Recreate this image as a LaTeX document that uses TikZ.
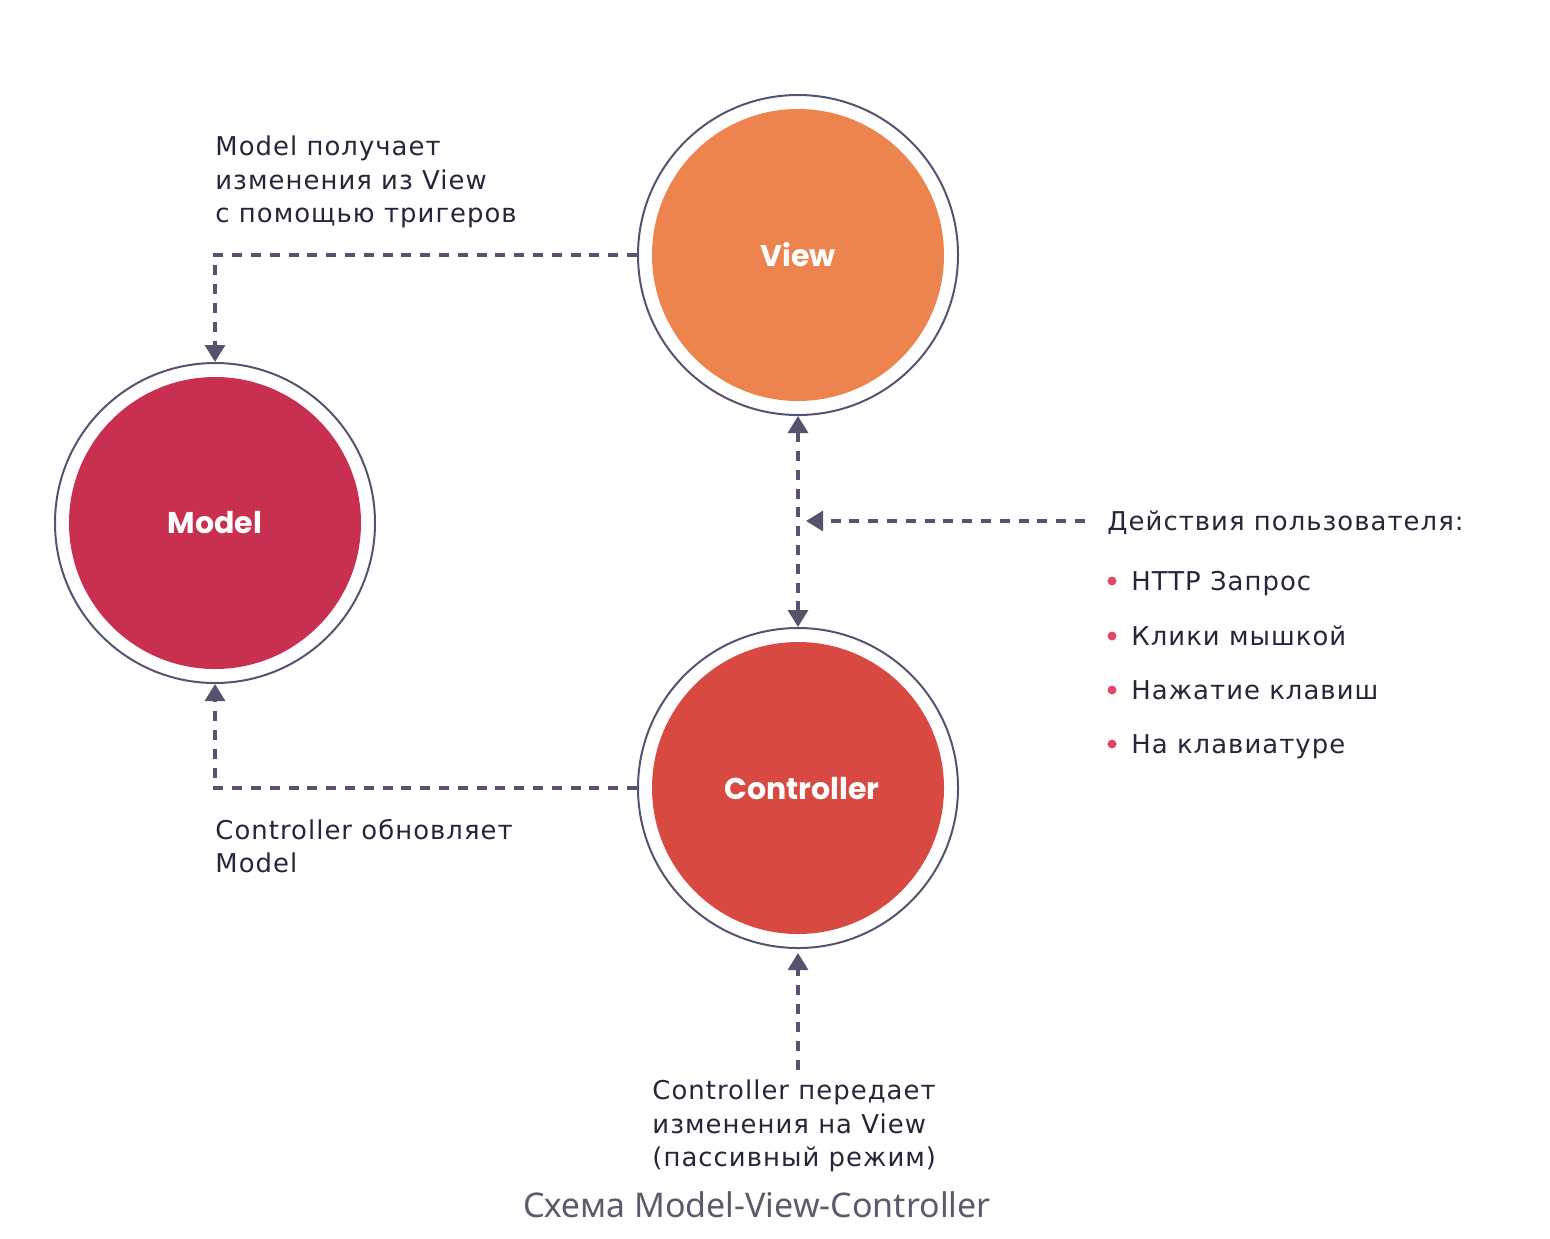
\documentclass[tikz,border=0pt]{standalone}
\usepackage{fontspec}
\setmainfont{DejaVu Sans}[LetterSpace=4]
\newfontfamily\poppins{Poppins}
\newfontfamily\capfont{Noto Sans}
\usetikzlibrary{arrows.meta}
\definecolor{ring}{HTML}{57536F}
\definecolor{txt}{HTML}{26263A}
\definecolor{modelc}{HTML}{C92F4F}
\definecolor{viewc}{HTML}{EE844D}
\definecolor{ctrlc}{HTML}{D84A41}
\definecolor{bulletc}{HTML}{E0476A}
\definecolor{capc}{HTML}{5B5C6B}
\tikzset{
  outer/.style={circle, draw=ring, line width=1pt, minimum size=320*0.5pt, inner sep=0pt},
  inner/.style={circle, minimum size=292*0.5pt, inner sep=0pt, text=white, font=\poppins\bfseries\fontsize{15}{17}\selectfont},
  conn/.style={draw=ring, line width=1.6pt, dash pattern=on 5pt off 4.4pt, -{Triangle[width=10pt,length=8.5pt]}},
  conn2/.style={conn, {Triangle[width=10pt,length=8.5pt]}-{Triangle[width=10pt,length=8.5pt]}},
  body/.style={text=txt, inner sep=0pt, font=\fontsize{12.95}{16.75}\selectfont, align=left},
  bul/.style={circle, fill=bulletc, inner sep=0pt, minimum size=4.5pt},
}
\begin{document}
\begin{tikzpicture}[x=0.5pt, y=-0.5pt]
\useasboundingbox (0,0) rectangle (1550,1238);
% circles
\node[outer] (view) at (798,255) {};
\node[outer] (model) at (215,523) {};
\node[outer] (ctrl) at (798,788) {};
\node[inner, fill=viewc] (viewin) at (798,255) {View};
\node[inner, fill=modelc] (modelin) at (215,523) {Model};
\node[inner, fill=ctrlc] (ctrlin) at (798,788) {\hspace*{4pt}Controller};
% connectors
\draw[conn] (view.west) -| (model.north);
\draw[conn] (ctrl.west) -| (model.south);
\draw[conn2] (view.south) -- (ctrl.north);
\coordinate (ua) at (1085,521);
\coordinate (ub) at (806,521);
\draw[conn] (ua) -- (ub);
\coordinate (pa) at (798,1070);
\draw[conn, shorten >=2pt] (pa) -- (ctrl.south);
% texts
\node[body, anchor=north west] (t1) at (215,135.5) {Model получает\\изменения из View\\с помощью тригеров};
\node[body, anchor=north west] (t2) at (215,818.5) {Controller обновляет\\Model};
\node[body, anchor=north west] (t3) at (652,1079.5) {Controller передает\\изменения на View\\(пассивный режим)};
\node[body, anchor=base west] (ua1) at (1107,530) {Действия пользователя:};
\node[bul] (b1) at (1112,581) {};
\node[bul] (b2) at (1112,636) {};
\node[bul] (b3) at (1112,690) {};
\node[bul] (b4) at (1112,744) {};
\node[body, anchor=base west] (l1) at (1131,590) {HTTP Запрос};
\node[body, anchor=base west] (l2) at (1131,645) {Клики мышкой};
\node[body, anchor=base west] (l3) at (1131,699) {Нажатие клавиш};
\node[body, anchor=base west] (l4) at (1131,753) {На клавиатуре};
\node[text=capc, inner sep=0pt, anchor=base, font=\capfont\fontsize{17}{19}\selectfont] (cap) at (757,1217) {Схема Model-View-Controller};
\end{tikzpicture}
\end{document}
